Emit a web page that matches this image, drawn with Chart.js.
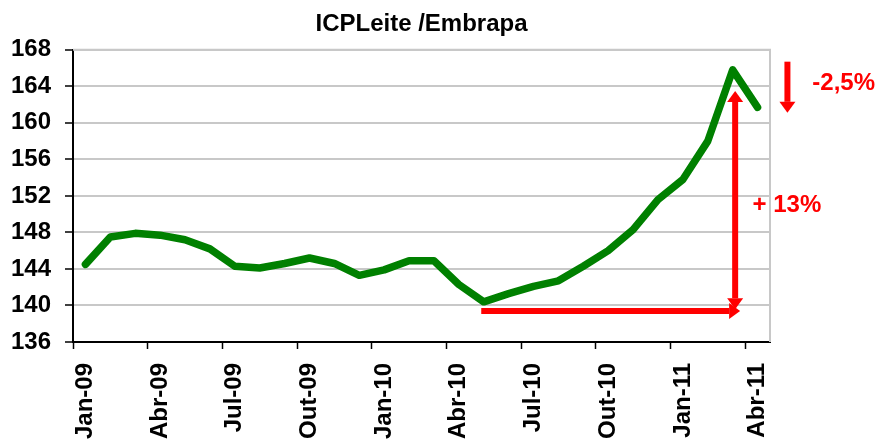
<!DOCTYPE html>
<html>
<head>
<meta charset="utf-8">
<script src="https://cdn.jsdelivr.net/npm/chart.js@4.4.1/dist/chart.umd.min.js"></script>
<style>
  html, body { margin: 0; padding: 0; background: #fff; }
  #wrap { width: 878px; height: 447px; }
</style>
</head>
<body>
<div id="wrap"><canvas id="icpChart"></canvas></div>
<script>
// --- dados ---
const meses = [
  'Jan-09','Fev-09','Mar-09','Abr-09','Mai-09','Jun-09','Jul-09','Ago-09','Set-09','Out-09','Nov-09','Dez-09',
  'Jan-10','Fev-10','Mar-10','Abr-10','Mai-10','Jun-10','Jul-10','Ago-10','Set-10','Out-10','Nov-10','Dez-10',
  'Jan-11','Fev-11','Mar-11','Abr-11'
];
const icpLeite = [
  144.5, 147.5, 147.9, 147.7, 147.2, 146.2, 144.3, 144.1, 144.6, 145.2, 144.6, 143.3,
  143.9, 144.9, 144.9, 142.3, 140.4, 141.3, 142.1, 142.7, 144.3, 146.0, 148.3, 151.6,
  153.8, 158.0, 165.8, 161.7
];
const yTicks = { min: 136, max: 168, step: 4 };

// setas e textos (em unidades de dados: indice do mes, valor do indice)
const setas = [
  { x0: 15.9, y0: 139.4, x1: 26.3, y1: 139.4, pontas: 'fim' },
  { x0: 26.1, y0: 139.6, x1: 26.1, y1: 163.5, pontas: 'ambas' },
  { x0: 28.2, y0: 166.7, x1: 28.2, y1: 161.1, pontas: 'fim' }
];
const textos = [
  { x: 29.2, y: 164.3, txt: '-2,5%' },
  { x: 26.8, y: 151.0, txt: '+ 13%' }
];

const VERMELHO = '#ff0000';
const FONTE = "'Liberation Sans', Arial, sans-serif";

function ponta(ctx, x, y, ang, comp, larg) {
  ctx.save();
  ctx.translate(x, y);
  ctx.rotate(ang);
  ctx.beginPath();
  ctx.moveTo(0, 0);
  ctx.lineTo(-comp, -larg);
  ctx.lineTo(-comp, larg);
  ctx.closePath();
  ctx.fill();
  ctx.restore();
}

const anotacoes = {
  id: 'anotacoes',
  beforeDatasetsDraw(chart) {
    // moldura cinza (topo e direita)
    const { ctx, chartArea: a } = chart;
    ctx.save();
    ctx.strokeStyle = '#c8c8c8';
    ctx.lineWidth = 2;
    ctx.beginPath();
    ctx.moveTo(a.left, a.top);
    ctx.lineTo(a.right, a.top);
    ctx.lineTo(a.right, a.bottom);
    ctx.stroke();
    ctx.restore();
  },
  afterDatasetsDraw(chart) {
    const { ctx, scales: { x, y } } = chart;
    ctx.save();
    ctx.strokeStyle = VERMELHO;
    ctx.fillStyle = VERMELHO;
    ctx.lineWidth = 6;
    ctx.lineCap = 'butt';
    setas.forEach(s => {
      const X0 = x.getPixelForValue(s.x0), Y0 = y.getPixelForValue(s.y0);
      const X1 = x.getPixelForValue(s.x1), Y1 = y.getPixelForValue(s.y1);
      const ang = Math.atan2(Y1 - Y0, X1 - X0);
      const comp = 11, larg = 8;
      let ax = X0, ay = Y0, bx = X1 - Math.cos(ang) * comp, by = Y1 - Math.sin(ang) * comp;
      if (s.pontas === 'ambas') { ax = X0 + Math.cos(ang) * comp; ay = Y0 + Math.sin(ang) * comp; }
      ctx.beginPath();
      ctx.moveTo(ax, ay);
      ctx.lineTo(bx, by);
      ctx.stroke();
      ponta(ctx, X1, Y1, ang, comp, larg);
      if (s.pontas === 'ambas') ponta(ctx, X0, Y0, ang + Math.PI, comp, larg);
    });
    ctx.font = 'bold 24px ' + FONTE;
    ctx.textAlign = 'left';
    ctx.textBaseline = 'middle';
    textos.forEach(t => {
      ctx.fillText(t.txt, x.getPixelForValue(t.x), y.getPixelForValue(t.y));
    });
    ctx.restore();
  }
};

const ctxICP = document.getElementById('icpChart').getContext('2d');
const icpChart = new Chart(ctxICP, {
  type: 'line',
  data: {
    labels: meses,
    datasets: [{
      label: 'ICPLeite',
      data: icpLeite,
      borderColor: '#008000',
      borderWidth: 7.5,
      borderCapStyle: 'round',
      borderJoinStyle: 'round',
      pointRadius: 0,
      tension: 0,
      fill: false
    }]
  },
  options: {
    responsive: true,
    maintainAspectRatio: false,
    animation: false,
    layout: { padding: { left: 0, right: 108, top: 0, bottom: 0 } },
    plugins: {
      legend: { display: false },
      tooltip: { enabled: false },
      title: {
        display: true,
        text: 'ICPLeite /Embrapa',
        color: '#000',
        fullSize: false,
        font: { family: FONTE, size: 24, weight: 'bold' },
        padding: { top: 10, bottom: 11 }
      }
    },
    scales: {
      x: {
        offset: true,
        afterFit: s => { s.height = 105; },
        grid: {
          offset: true,
          drawOnChartArea: false,
          tickLength: 7,
          tickWidth: 1.5,
          color: c => (c.index % 3 === 0 ? '#000' : 'rgba(0,0,0,0)'),
          tickColor: c => (c.index % 3 === 0 ? '#000' : 'rgba(0,0,0,0)')
        },
        border: { color: '#000', width: 2 },
        ticks: {
          autoSkip: false,
          maxRotation: 90,
          minRotation: 90,
          padding: 14,
          color: '#000',
          font: { family: FONTE, size: 24, weight: 'bold' },
          callback: (v, i) => (i % 3 === 0 ? meses[i] : '')
        }
      },
      y: {
        min: yTicks.min,
        max: yTicks.max,
        afterFit: s => { s.width = 73; },
        grid: {
          color: '#c8c8c8',
          lineWidth: 2,
          tickColor: '#000',
          tickLength: 8,
          tickWidth: 1.5
        },
        border: { color: '#000', width: 2 },
        ticks: {
          stepSize: yTicks.step,
          padding: 14,
          color: '#000',
          font: { family: FONTE, size: 24, weight: 'bold' }
        }
      }
    }
  },
  plugins: [anotacoes]
});
</script>
</body>
</html>
